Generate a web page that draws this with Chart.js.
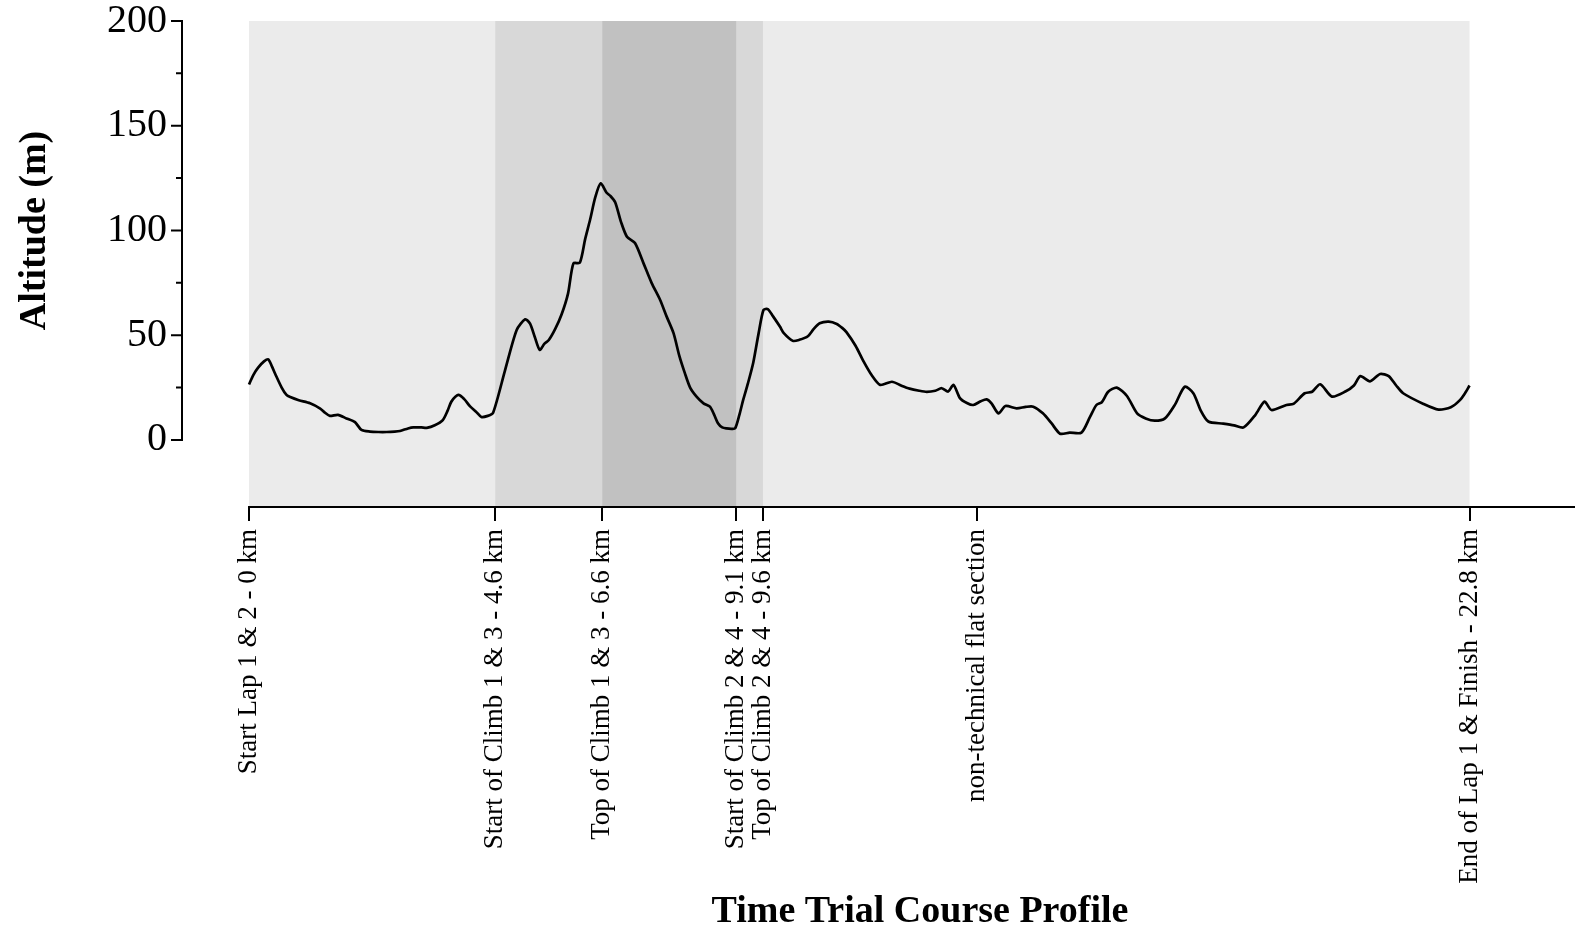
<!DOCTYPE html>
<html>
<head>
<meta charset="utf-8">
<script src="https://cdn.jsdelivr.net/npm/chart.js@4.4.1/dist/chart.umd.min.js"></script>
<style>
  html, body { margin: 0; padding: 0; background: #ffffff; }
  #wrap { width: 1575px; height: 937px; position: relative; }
</style>
</head>
<body>
<div id="wrap"><canvas id="profile"></canvas></div>
<script>
// course profile, distance in km and altitude in m
var distKm = [0.00, 0.08, 0.17, 0.28, 0.36, 0.43, 0.49, 0.61, 0.70, 0.77, 0.93, 1.14, 1.33, 1.42, 1.51, 1.66, 1.82, 1.98, 2.10, 2.26,
  2.42, 2.57, 2.72, 2.82, 2.97, 3.07, 3.22, 3.32, 3.47, 3.62, 3.71, 3.78, 3.91, 4.02, 4.13, 4.24, 4.34, 4.46, 4.56, 4.78,
  5.00, 5.16, 5.25, 5.34, 5.43, 5.52, 5.60, 5.72, 5.84, 5.96, 6.06, 6.18, 6.28, 6.37, 6.47, 6.57, 6.68, 6.75, 6.84, 6.95,
  7.06, 7.21, 7.37, 7.52, 7.68, 7.80, 7.93, 8.04, 8.14, 8.24, 8.36, 8.49, 8.61, 8.69, 8.76, 8.84, 8.92, 9.01, 9.08, 9.16,
  9.23, 9.32, 9.42, 9.52, 9.61, 9.69, 9.79, 9.92, 9.99, 10.16, 10.28, 10.44, 10.55, 10.66, 10.83, 10.98, 11.08, 11.16, 11.33, 11.48,
  11.63, 11.79, 12.01, 12.18, 12.34, 12.52, 12.66, 12.82, 12.94, 13.06, 13.16, 13.28, 13.42, 13.53, 13.67, 13.78, 13.87, 14.00, 14.13, 14.34,
  14.51, 14.65, 14.83, 14.99, 15.15, 15.33, 15.55, 15.71, 15.83, 15.93, 16.05, 16.21, 16.40, 16.59, 16.75, 16.92, 17.11, 17.30, 17.48, 17.64,
  17.78, 17.92, 18.20, 18.40, 18.58, 18.80, 18.97, 19.10, 19.38, 19.51, 19.72, 19.86, 20.01, 20.23, 20.48, 20.64, 20.76, 20.94, 21.13, 21.29,
  21.43, 21.56, 21.94, 22.22, 22.45, 22.62, 22.72, 22.80];
var altitudeM = [26.5, 31, 34.5, 37.5, 38.5, 35, 31.5, 25, 21.5, 20.5, 19, 17.5, 15, 13, 11.5, 12, 10.3, 8.5, 4.8, 4,
  3.8, 3.8, 4, 4.3, 5.5, 6, 6, 5.8, 7, 9.5, 14, 18.3, 21.5, 19.5, 16, 13.5, 11, 11.5, 13, 33,
  52.5, 57.6, 55.5, 49, 43, 46, 47.7, 53, 60, 70, 84.3, 84.6, 96, 105, 116, 122.5, 118, 116.5, 113.5, 104,
  97, 94, 84.3, 75, 66.8, 59, 51, 40, 32, 25, 20.7, 17.5, 15.9, 12, 8, 6, 5.5, 5.3, 5.5, 12,
  19, 27, 37, 51, 62, 62.5, 59, 54, 51, 47.3, 47.8, 49.5, 53, 55.7, 56.5, 55.4, 53.5, 51.5, 45, 37.5,
  31, 26.3, 27.8, 26, 24.5, 23.5, 23, 23.5, 24.7, 23.1, 26.3, 20, 17.5, 16.7, 18.5, 19.4, 17.5, 12.7, 16.2, 15.1,
  15.8, 15.9, 12.7, 8, 3, 3.5, 3.5, 11, 16.7, 18, 23, 25, 21, 12.7, 10.3, 9.2, 10.3, 17, 25.4, 22.3,
  14, 8.8, 7.8, 7, 6, 12, 18.3, 14.3, 16.7, 17.2, 22.3, 23, 26.6, 20.7, 23.1, 26, 30.5, 28, 31.5, 30.5,
  26, 22.3, 17.2, 14.5, 15.6, 19, 22.5, 26];

// marked points along the course
var markKm = [0, 4.6, 6.6, 9.1, 9.6, 13.6, 22.8];
var markLabels = ["Start Lap 1 & 2 - 0 km", "Start of Climb 1 & 3 - 4.6 km", "Top of Climb 1 & 3 - 6.6 km",
  "Start of Climb 2 & 4 - 9.1 km", "Top of Climb 2 & 4 - 9.6 km", "non-technical flat section",
  "End of Lap 1 & Finish - 22.8 km"];

// shaded sections (lap, climbs, top of climb)
var bandFrom = [0, 4.6, 6.6];
var bandTo = [22.8, 9.6, 9.1];
var bandFill = ["#ebebeb", "#d8d8d8", "#c1c1c1"];

var yTicks = [0, 50, 100, 150, 200];
var yMinorTicks = [25, 75, 125, 175];

var points = [];
for (var i = 0; i < distKm.length; i++) {
  points.push({x: distKm[i], y: altitudeM[i]});
}

var serif = "'Liberation Serif', 'Times New Roman', serif";

var framePlugin = {
  id: 'frame',
  beforeDatasetsDraw: function(chart) {
    var ctx = chart.ctx;
    var xs = chart.scales.x;
    var area = chart.chartArea;
    ctx.save();
    for (var b = 0; b < bandFrom.length; b++) {
      var x0 = xs.getPixelForValue(bandFrom[b]);
      var x1 = xs.getPixelForValue(bandTo[b]);
      ctx.fillStyle = bandFill[b];
      ctx.fillRect(x0, area.top, x1 - x0, area.bottom - area.top);
    }
    ctx.restore();
  },
  afterDraw: function(chart) {
    var ctx = chart.ctx;
    var xs = chart.scales.x;
    var ys = chart.scales.y;
    var area = chart.chartArea;
    ctx.save();
    ctx.strokeStyle = '#000';
    ctx.lineWidth = 2;
    // x axis line starts at 0 km
    ctx.beginPath();
    ctx.moveTo(xs.getPixelForValue(0) - 1, area.bottom);
    ctx.lineTo(area.right, area.bottom);
    ctx.stroke();
    // y axis line only from 0 to 200
    var yl = area.left;
    ctx.beginPath();
    ctx.moveTo(yl, ys.getPixelForValue(0) + 1);
    ctx.lineTo(yl, ys.getPixelForValue(200) - 1);
    ctx.stroke();
    ctx.beginPath();
    yTicks.forEach(function(v) {
      var p = ys.getPixelForValue(v);
      ctx.moveTo(yl - 11, p);
      ctx.lineTo(yl, p);
    });
    yMinorTicks.forEach(function(v) {
      var p = ys.getPixelForValue(v);
      ctx.moveTo(yl - 6, p);
      ctx.lineTo(yl, p);
    });
    ctx.stroke();

    // axis titles
    ctx.fillStyle = '#000';
    ctx.textAlign = 'center';
    ctx.textBaseline = 'middle';
    ctx.font = 'bold 38px ' + serif;
    ctx.fillText('Time Trial Course Profile', 920, 912);
    ctx.translate(35, ys.getPixelForValue(100));
    ctx.rotate(-Math.PI / 2);
    ctx.fillText('Altitude (m)', 0, 0);
    ctx.restore();
  }
};

new Chart(document.getElementById('profile'), {
  type: 'line',
  data: {
    datasets: [{
      data: points,
      borderColor: '#000',
      borderWidth: 2.7,
      pointRadius: 0,
      tension: 0.25,
      fill: false
    }]
  },
  options: {
    responsive: true,
    maintainAspectRatio: false,
    animation: false,
    layout: { padding: { top: 21, right: 0, left: 0, bottom: 0 } },
    plugins: { legend: { display: false }, tooltip: { enabled: false } },
    scales: {
      x: {
        type: 'linear',
        min: -1.252,
        max: 24.77,
        afterBuildTicks: function(scale) {
          scale.ticks = markKm.map(function(v) { return {value: v}; });
        },
        afterFit: function(scale) {
          scale.height = 430;
          scale.paddingLeft = 0;
          scale.paddingRight = 0;
        },
        ticks: {
          autoSkip: false,
          minRotation: 90,
          maxRotation: 90,
          padding: 8,
          color: '#000',
          font: { family: serif, size: 27 },
          callback: function(v) {
            var k = markKm.indexOf(v);
            return k >= 0 ? markLabels[k] : '';
          }
        },
        grid: {
          drawOnChartArea: false,
          drawTicks: true,
          tickLength: 14,
          color: '#000',
          lineWidth: 2
        },
        border: { display: false }
      },
      y: {
        type: 'linear',
        min: -32,
        max: 200,
        afterBuildTicks: function(scale) {
          scale.ticks = yTicks.map(function(v) { return {value: v}; });
        },
        afterFit: function(scale) {
          scale.width = 182;
          scale.paddingTop = 0;
          scale.paddingBottom = 0;
        },
        ticks: {
          padding: 15,
          color: '#000',
          font: { family: serif, size: 40 }
        },
        grid: { display: false, drawTicks: false },
        border: { display: false }
      }
    }
  },
  plugins: [framePlugin]
});
</script>
</body>
</html>
